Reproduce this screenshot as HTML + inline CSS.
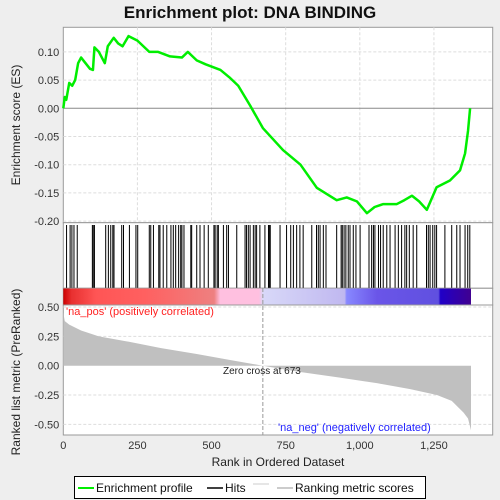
<!DOCTYPE html>
<html><head><meta charset="utf-8"><style>
body{margin:0;background:#eeeeee;}
svg{display:block;font-family:"Liberation Sans",sans-serif;}
</style></head><body>
<svg id="c" width="500" height="500"></svg>
<script>
const esRanks=[0,5,10,20,30,40,50,60,75,90,100,105,120,140,150,170,185,200,220,250,270,290,320,360,400,420,450,480,530,560,590,630,673,741,800,855,922,956,990,1024,1050,1078,1124,1150,1176,1200,1226,1259,1304,1338,1355,1365,1372];
const esValues=[0,0.02,0.015,0.045,0.04,0.05,0.08,0.09,0.08,0.07,0.068,0.108,0.1,0.08,0.11,0.125,0.115,0.11,0.128,0.12,0.11,0.1,0.1,0.092,0.09,0.1,0.085,0.078,0.068,0.055,0.04,0.005,-0.035,-0.074,-0.1,-0.141,-0.163,-0.158,-0.165,-0.186,-0.175,-0.17,-0.17,-0.163,-0.155,-0.165,-0.18,-0.14,-0.128,-0.11,-0.08,-0.04,0.0];
const hitRanks=[11,23,29,36,47,98,101,105,143,152,160,167,171,197,203,223,245,251,290,295,304,322,326,337,349,363,371,379,389,396,400,407,430,433,450,461,475,489,508,512,519,523,540,551,557,585,613,618,624,630,641,647,652,663,680,692,695,698,731,753,767,776,787,798,809,838,854,860,866,877,886,922,937,941,947,953,961,967,978,987,1001,1031,1040,1046,1051,1063,1070,1079,1091,1102,1119,1130,1141,1152,1158,1167,1180,1192,1225,1231,1237,1246,1253,1259,1287,1310,1327,1338,1355,1364,1371];
const metricRanks=[0,5,20,60,120,230,330,450,560,673,790,930,1060,1170,1260,1310,1350,1365,1375];
const metricValues=[0.45,0.38,0.35,0.3,0.25,0.2,0.15,0.1,0.05,0,-0.05,-0.1,-0.15,-0.2,-0.25,-0.3,-0.4,-0.45,-0.55];
const esTicks=[0.10,0.05,0.00,-0.05,-0.10,-0.15,-0.20];
const metricTicks=[0.50,0.25,0.00,-0.25,-0.50];
const xTicks=[0,250,500,750,1000,1250];
const xTickLabels=["0","250","500","750","1,000","1,250"];

const NS="http://www.w3.org/2000/svg";
const svg=document.getElementById('c');
function mk(t,a,p){const e=document.createElementNS(NS,t);for(const k in a)e.setAttribute(k,a[k]);(p||svg).appendChild(e);return e;}
const L=63.3,R=492.7;
const X=r=>L+r*0.2965;
const YE=v=>108.3-v*564;
const YM=v=>365.7-v*117.4;

// top panel
let e=mk('rect',{x:L,y:27.3,width:R-L,height:195.4,fill:'#fff',stroke:'#999'});

xTicks.forEach(t=>{if(t>0){mk('line',{x1:X(t),x2:X(t),y1:27.3,y2:222.7,stroke:'#ddd','stroke-dasharray':'3,2'});mk('line',{x1:X(t),x2:X(t),y1:305,y2:435,stroke:'#ddd','stroke-dasharray':'3,2'});}});
esTicks.forEach(t=>{const y=YE(t);
 if(t!==0)mk('line',{x1:L,x2:R,y1:y,y2:y,stroke:'#ddd','stroke-dasharray':'3,2'});
 const tx=mk('text',{x:L-4,y:y+4,'text-anchor':'end','font-size':11,fill:'#333'});tx.textContent=t.toFixed(2);
 });
mk('line',{x1:L,x2:R,y1:YE(0),y2:YE(0),stroke:'#888'});
let pts=esRanks.map((r,i)=>X(r)+','+YE(esValues[i])).join(' ');
e=mk('polyline',{points:pts,fill:'none',stroke:'#00ee00','stroke-width':2.5,'stroke-linejoin':'round'});

e=mk('text',{x:-125,y:20,transform:'rotate(-90)','text-anchor':'middle','font-size':12,fill:'#222'});e.textContent='Enrichment score (ES)';


// hits
e=mk('rect',{x:L,y:222.7,width:R-L,height:65.5,fill:'#fff',stroke:'#999'});

hitRanks.forEach(r=>{const h=mk('line',{x1:X(r),x2:X(r),y1:225,y2:288,stroke:'#000','stroke-width':1});
 });
// color band
const defs=mk('defs',{});
const g=mk('linearGradient',{id:'bg',x1:0,x2:1,y1:0,y2:0},defs);
[[0,'#cc0000'],[0.02,'#e83030'],[0.08,'#ff5555'],[0.2,'#ff6060'],[0.37,'#ee8080'],[0.385,'#ffc0e0'],[0.48,'#ffc0e0'],[0.49,'#d8d8f8'],[0.69,'#c0b8f0'],[0.695,'#8888ff'],[0.77,'#6a55e8'],[0.92,'#6050e0'],[0.925,'#2000c8'],[1,'#400090']].forEach(s=>mk('stop',{offset:s[0],'stop-color':s[1]},g));
e=mk('rect',{x:L,y:288.3,width:R-L,height:16.7,fill:'#fff',stroke:'#999'});
e=mk('rect',{x:L,y:288.5,width:X(1375)-L,height:16.3,fill:'url(#bg)'});


// bottom panel
e=mk('rect',{x:L,y:305,width:R-L,height:130,fill:'#fff',stroke:'#999'});

metricTicks.forEach(t=>{const y=YM(t);
 if(t!==0)mk('line',{x1:L,x2:R,y1:y,y2:y,stroke:'#ddd','stroke-dasharray':'3,2'});
 const tx=mk('text',{x:L-4,y:y+4,'text-anchor':'end','font-size':11,fill:'#333'});tx.textContent=t.toFixed(2);
 });
let ap=[X(0)+','+YM(0)].concat(metricRanks.map((r,i)=>X(r)+','+YM(metricValues[i]))).concat([X(1375)+','+YM(0)]).join(' ');
e=mk('polygon',{points:ap,fill:'#c0c0c0'});

mk('line',{x1:X(673),x2:X(673),y1:288,y2:435,stroke:'#999','stroke-dasharray':'4,2'});
e=mk('text',{x:223,y:374,'font-size':10,fill:'#222'});e.textContent='Zero cross at 673';

e=mk('text',{x:66,y:315,'font-size':11,fill:'#ff2222'});e.textContent="'na_pos' (positively correlated)";

e=mk('text',{x:278,y:431,'font-size':11,fill:'#2222ff'});e.textContent="'na_neg' (negatively correlated)";

xTicks.forEach((t,i)=>{const tx=mk('text',{x:X(t),y:449,'text-anchor':'middle','font-size':11,fill:'#333'});tx.textContent=xTickLabels[i];
 });
e=mk('text',{x:278,y:466,'text-anchor':'middle','font-size':12,fill:'#222'});e.textContent='Rank in Ordered Dataset';

e=mk('text',{x:-372,y:20,transform:'rotate(-90)','text-anchor':'middle','font-size':12,fill:'#222'});e.textContent='Ranked list metric (PreRanked)';


// title
e=mk('text',{x:250,y:18,'text-anchor':'middle','font-size':17,'font-weight':'bold',fill:'#111'});e.textContent='Enrichment plot: DNA BINDING';


// legend
e=mk('rect',{x:74.5,y:476.5,width:351,height:22,fill:'#fff',stroke:'#000'});

mk('line',{x1:78,x2:94,y1:488,y2:488,stroke:'#00ee00','stroke-width':2});
e=mk('text',{x:96,y:492,'font-size':12,fill:'#111'});e.textContent='Enrichment profile';

mk('line',{x1:207,x2:223,y1:488,y2:488,stroke:'#000','stroke-width':1.5});
e=mk('text',{x:225,y:492,'font-size':12,fill:'#111'});e.textContent='Hits';

mk('line',{x1:253,x2:269,y1:484,y2:484,stroke:'#ccc','stroke-width':1});
mk('line',{x1:277,x2:293,y1:488,y2:488,stroke:'#bbb','stroke-width':1.5});
e=mk('text',{x:295,y:492,'font-size':12,fill:'#111'});e.textContent='Ranking metric scores';

</script>
</body></html>
